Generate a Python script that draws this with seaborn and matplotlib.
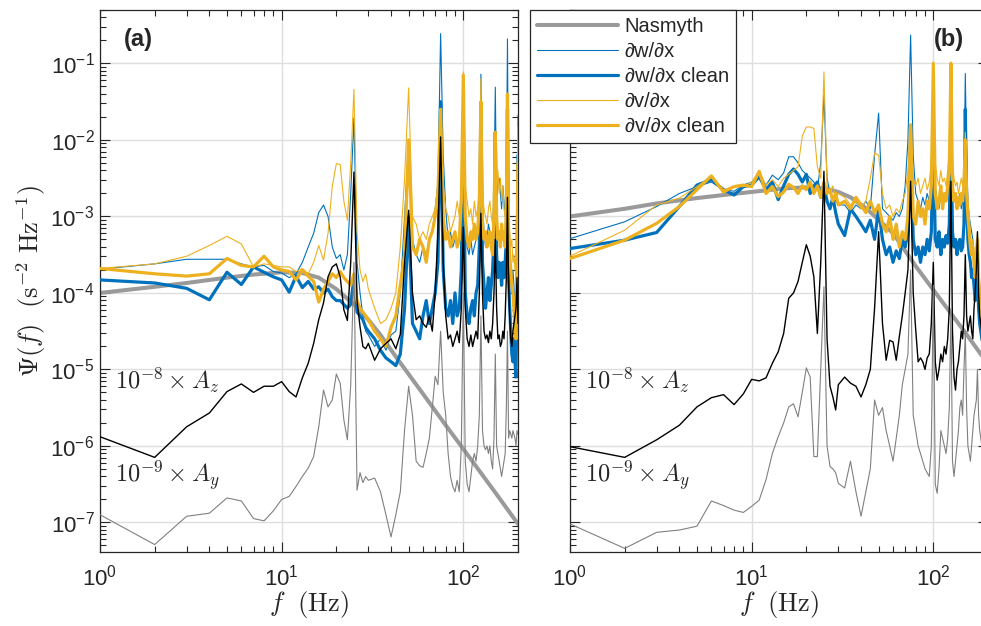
import numpy as np
import matplotlib
matplotlib.use("Agg")
import matplotlib.pyplot as plt
from matplotlib.ticker import LogLocator, NullFormatter, FixedLocator
import seaborn as sns

# ---------------- data (log10 of spectral values) -------------
freq = [1, 2, 3, 4, 5, 6, 7, 8, 9, 10, 11, 12, 13, 14, 15, 16, 17, 18, 19, 20,
        21, 22, 23, 24, 25, 26, 27, 28, 29, 30,
        32.5, 35, 37.5, 40, 42.5, 45, 47.5, 50,
        52.5, 55, 57.5, 60, 62.5, 65, 67.5, 70, 72.5, 75,
        77.5, 80, 82.5, 85, 87.5, 90, 92.5, 95, 97.5, 100,
        102.5, 105, 107.5, 110, 112.5, 115, 117.5, 120, 122.5, 125,
        127.5, 130, 132.5, 135, 137.5, 140, 142.5, 145, 147.5, 150,
        152.5, 155, 157.5, 160, 162.5, 165, 167.5, 170, 172.5, 175,
        177.5, 180, 182.5, 185, 187.5, 190, 192.5, 195, 197.5, 200]

nas_freq = [1, 2, 3, 5, 7, 10, 13, 16, 20, 25, 30, 35, 43, 60, 80, 100, 150, 200]
nas_a = [-4.00, -3.92, -3.87, -3.80, -3.76, -3.73, -3.74, -3.80, -3.95, -4.15,
         -4.35, -4.55, -4.85, -5.32, -5.73, -6.04, -6.61, -7.02]
nas_b = [-3.00, -2.90, -2.83, -2.76, -2.72, -2.68, -2.65, -2.63, -2.62, -2.63,
         -2.68, -2.75, -2.90, -3.22, -3.65, -3.96, -4.52, -4.93]

# panel (a)
a_w = [-3.69, -3.62, -3.56, -3.56, -3.56, -3.62, -3.66, -3.64, -3.72, -3.74,
       -3.80, -3.75, -3.60, -3.40, -3.22, -2.95, -2.85, -3.00, -3.40, -3.55,
       -3.50, -3.70, -3.50, -2.70, -1.71, -3.60, -4.00, -4.30, -4.50, -4.55,
       -4.70, -4.60, -4.75, -4.55, -4.50, -4.00, -3.00, -2.03,
       -3.30, -3.50, -3.60, -3.40, -3.50, -3.30, -3.20, -2.90, -2.56, -0.61,
       -2.20, -2.90, -3.30, -3.20, -3.40, -3.30, -3.40, -3.30, -3.00, -1.30,
       -3.00, -3.40, -3.50, -3.30, -3.50, -3.40, -3.30, -3.20, -2.80, -1.14,
       -2.80, -3.20, -3.40, -3.30, -3.10, -3.20, -3.40, -3.30, -2.70, -1.31,
       -2.80, -2.60, -2.50, -2.70, -2.90, -2.60, -2.80, -3.00, -2.70, -0.68,
       -3.00, -3.60, -3.80, -4.00, -3.70, -3.90, -4.30, -4.60, -3.20, -1.68]
a_wc = [-3.83, -3.87, -3.94, -4.09, -3.73, -3.89, -3.66, -3.73, -3.79, -3.83,
        -3.99, -3.78, -3.93, -3.85, -3.95, -3.92, -4.00, -3.95, -4.05, -4.10,
        -4.10, -4.15, -4.20, -4.15, -3.80, -4.25, -4.30, -4.35, -4.45, -4.50,
        -4.60, -4.75, -4.85, -4.90, -4.95, -4.80, -4.20, -3.00,
        -4.40, -4.50, -4.60, -4.30, -4.10, -4.40, -4.20, -4.00, -3.60, -1.50,
        -3.70, -4.20, -4.30, -4.10, -4.40, -4.00, -4.30, -4.20, -3.70, -1.80,
        -4.00, -4.30, -4.40, -4.20, -4.10, -4.30, -4.00, -3.90, -3.40, -1.60,
        -3.60, -3.90, -4.20, -4.00, -3.80, -4.10, -3.90, -3.70, -3.30, -1.90,
        -3.50, -3.80, -3.60, -3.70, -3.90, -3.60, -3.80, -3.60, -3.30, -1.60,
        -3.80, -4.20, -4.50, -4.80, -4.90, -4.60, -4.90, -5.10, -4.00, -2.20]
a_v = [-3.68, -3.62, -3.52, -3.38, -3.26, -3.36, -3.66, -3.62, -3.64, -3.66,
       -3.66, -3.72, -3.68, -3.75, -3.60, -3.38, -3.57, -3.22, -2.60, -2.31,
       -2.32, -2.80, -3.05, -2.30, -1.34, -3.20, -3.70, -3.85, -3.75, -3.95,
       -4.20, -4.40, -4.35, -4.20, -4.00, -3.40, -2.50, -1.32,
       -3.00, -3.10, -3.30, -3.20, -3.30, -3.10, -3.00, -2.90, -2.60, -1.70,
       -2.60, -2.90, -3.00, -3.20, -3.10, -3.00, -2.80, -3.00, -2.60, -1.11,
       -2.60, -2.80, -3.00, -2.90, -3.10, -2.80, -3.00, -2.90, -2.60, -1.20,
       -2.70, -2.90, -3.00, -3.10, -2.90, -2.80, -3.00, -3.10, -2.80, -1.90,
       -2.60, -2.40, -2.70, -2.50, -2.80, -2.60, -2.90, -3.00, -2.70, -1.40,
       -2.90, -3.20, -3.40, -3.30, -3.60, -3.50, -3.70, -3.40, -2.60, -1.83]
a_vc = [-3.68, -3.75, -3.78, -3.75, -3.55, -3.64, -3.66, -3.52, -3.66, -3.70,
        -3.72, -3.83, -3.70, -3.78, -3.85, -4.12, -3.95, -3.85, -3.75, -3.80,
        -3.72, -3.80, -3.85, -3.90, -3.75, -4.10, -4.20, -4.25, -4.30, -4.35,
        -4.50, -4.60, -4.70, -4.45, -4.30, -3.90, -3.50, -2.00,
        -3.40, -3.50, -3.30, -3.40, -3.60, -3.30, -3.20, -3.00, -2.70, -1.60,
        -3.00, -3.30, -3.20, -3.40, -3.30, -3.20, -3.40, -3.30, -2.80, -1.15,
        -3.00, -3.30, -3.40, -3.20, -3.30, -3.10, -3.30, -3.20, -2.80, -1.50,
        -3.10, -3.30, -3.20, -3.40, -3.30, -3.20, -3.40, -3.50, -3.00, -1.90,
        -3.00, -3.30, -3.20, -3.40, -3.10, -3.30, -3.20, -3.40, -2.90, -1.40,
        -3.30, -3.50, -3.70, -3.90, -4.00, -4.20, -4.40, -4.60, -3.50, -2.30]
a_z = [-5.88, -6.15, -5.75, -5.57, -5.29, -5.19, -5.30, -5.22, -5.22, -5.16,
       -5.29, -5.36, -5.11, -4.92, -4.66, -4.35, -4.13, -3.79, -3.66, -3.62,
       -3.79, -4.22, -4.36, -3.60, -2.42, -4.10, -4.44, -4.70, -4.73, -4.66,
       -4.88, -4.73, -4.66, -4.60, -4.73, -4.54, -3.60, -2.92,
       -4.00, -4.35, -4.30, -4.40, -4.45, -4.30, -4.50, -4.00, -3.20, -1.96,
       -3.60, -4.30, -4.60, -4.55, -4.70, -4.60, -4.50, -4.65, -4.20, -3.14,
       -4.20, -4.60, -4.70, -4.55, -4.70, -4.60, -4.50, -4.60, -4.00, -2.96,
       -4.00, -4.50, -4.60, -4.55, -4.65, -4.50, -4.60, -4.40, -4.00, -3.30,
       -4.20, -4.60, -4.55, -4.70, -4.65, -4.50, -4.60, -4.30, -3.80, -2.75,
       -3.90, -4.30, -4.60, -4.70, -4.50, -4.40, -4.30, -4.20, -3.80, -4.40]
a_y = [-6.90, -7.29, -6.92, -6.88, -6.68, -6.72, -6.95, -6.98, -6.85, -6.70,
       -6.66, -6.53, -6.40, -6.29, -6.14, -5.75, -5.27, -5.49, -5.40, -5.06,
       -5.18, -5.66, -5.92, -5.20, -3.60, -6.58, -6.35, -6.48, -6.40, -6.45,
       -6.42, -6.60, -6.90, -7.19, -6.90, -6.60, -5.79, -5.22,
       -5.60, -6.20, -6.26, -6.28, -6.10, -5.90, -5.50, -5.09, -5.20, -4.50,
       -5.30, -5.60, -6.10, -6.40, -6.53, -6.60, -6.45, -6.60, -6.00, -4.00,
       -6.20, -6.50, -6.60, -6.40, -6.20, -6.10, -6.20, -6.00, -5.60, -4.30,
       -5.80, -6.00, -6.05, -6.00, -6.10, -6.00, -6.20, -6.30, -5.90, -4.80,
       -6.00, -6.10, -6.20, -6.30, -6.40, -6.30, -6.20, -6.10, -5.50, -4.50,
       -5.90, -5.80, -5.85, -5.90, -5.80, -5.85, -5.90, -6.00, -5.80, -5.85]

# panel (b)
b_w = [-3.29, -3.07, -2.87, -2.70, -2.61, -2.55, -2.65, -2.67, -2.59, -2.55,
       -2.48, -2.59, -2.46, -2.52, -2.43, -2.22, -2.22, -2.30, -2.40, -2.45,
       -2.50, -2.55, -2.65, -2.30, -1.41, -2.50, -2.70, -2.75, -2.80, -2.85,
       -2.85, -2.95, -2.85, -2.90, -2.80, -2.90, -2.20, -1.65,
       -2.90, -2.95, -3.00, -3.05, -2.95, -3.00, -2.90, -2.60, -2.00, -0.63,
       -2.20, -2.70, -2.80, -2.90, -2.75, -2.85, -2.70, -2.80, -2.50, -1.60,
       -2.60, -2.80, -2.90, -2.70, -2.85, -2.75, -2.80, -2.70, -2.40, -1.50,
       -2.50, -2.80, -2.75, -2.90, -2.80, -2.70, -2.90, -2.80, -2.50, -1.13,
       -2.17, -2.80, -3.00, -3.10, -3.20, -3.30, -3.50, -3.60, -3.80, -3.70,
       -3.90, -4.10, -4.20, -4.30, -4.50, -4.60, -4.40, -4.50, -4.60, -4.50]
b_wc = [-3.42, -3.31, -3.21, -2.87, -2.59, -2.52, -2.65, -2.72, -2.61, -2.59,
        -2.48, -2.65, -2.55, -2.78, -2.60, -2.45, -2.38, -2.45, -2.55, -2.45,
        -2.70, -2.60, -2.55, -2.75, -2.60, -2.80, -2.90, -2.75, -2.95, -3.10,
        -3.25, -2.90, -3.00, -3.10, -3.20, -3.05, -3.30, -2.90,
        -3.30, -3.50, -3.40, -3.60, -3.45, -3.55, -3.30, -3.40, -3.20, -1.90,
        -3.30, -3.50, -3.40, -3.60, -3.40, -3.50, -3.30, -3.45, -3.20, -2.00,
        -3.30, -3.40, -3.20, -3.50, -3.30, -3.40, -3.25, -3.35, -3.10, -1.80,
        -3.20, -3.40, -3.30, -3.50, -3.35, -3.30, -3.45, -3.40, -3.10, -1.60,
        -2.80, -3.30, -3.50, -3.60, -3.80, -3.70, -3.90, -4.10, -4.00, -3.60,
        -4.20, -4.40, -4.50, -4.60, -4.70, -4.50, -4.60, -4.70, -4.60, -4.50]
b_v = [-3.52, -3.18, -2.85, -2.76, -2.61, -2.47, -2.65, -2.61, -2.61, -2.55,
       -2.41, -2.59, -2.52, -2.61, -2.50, -2.45, -2.40, -2.35, -1.95, -1.83,
       -1.83, -1.85, -2.35, -2.50, -1.11, -2.60, -2.70, -2.60, -2.75, -2.70,
       -2.75, -2.85, -2.80, -2.90, -2.80, -2.50, -2.17, -2.20,
       -2.70, -2.90, -2.85, -3.00, -2.90, -2.95, -2.80, -2.70, -2.40, -1.96,
       -2.50, -2.60, -2.50, -2.70, -2.60, -2.50, -2.65, -2.55, -2.30, -0.98,
       -2.30, -2.50, -2.60, -2.40, -2.55, -2.50, -2.60, -2.40, -2.10, -0.98,
       -2.30, -2.50, -2.60, -2.55, -2.70, -2.60, -2.50, -2.60, -2.40, -1.90,
       -2.50, -2.80, -3.00, -3.20, -3.40, -3.30, -3.50, -3.60, -3.40, -3.20,
       -3.60, -3.90, -4.10, -4.20, -4.40, -4.30, -4.50, -4.40, -4.50, -4.40]
b_vc = [-3.55, -3.31, -3.09, -2.87, -2.65, -2.47, -2.68, -2.61, -2.59, -2.61,
        -2.41, -2.70, -2.61, -2.74, -2.68, -2.58, -2.62, -2.70, -2.60, -2.65,
        -2.55, -2.70, -2.60, -2.75, -2.55, -2.70, -2.65, -2.80, -2.70, -2.85,
        -2.80, -2.90, -2.75, -2.85, -2.95, -2.80, -2.95, -2.85,
        -3.10, -3.20, -3.00, -3.30, -3.10, -3.40, -3.20, -3.30, -3.00, -1.80,
        -3.00, -3.10, -2.80, -3.00, -2.90, -3.10, -2.80, -2.90, -2.60, -1.00,
        -2.70, -2.90, -2.80, -2.60, -2.90, -2.70, -2.80, -2.60, -2.40, -1.00,
        -2.60, -2.80, -2.70, -2.90, -2.75, -2.85, -2.70, -2.80, -2.60, -2.00,
        -2.70, -3.00, -3.20, -3.40, -3.50, -3.40, -3.60, -3.80, -3.50, -3.30,
        -3.80, -4.00, -4.20, -4.40, -4.50, -4.40, -4.60, -4.50, -4.60, -4.50]
b_z = [-6.01, -6.15, -5.92, -5.73, -5.49, -5.37, -5.33, -5.46, -5.32, -5.13,
       -5.15, -5.11, -4.92, -4.77, -4.53, -4.07, -4.00, -3.85, -3.60, -3.37,
       -3.52, -3.79, -4.53, -3.60, -2.41, -4.60, -5.22, -5.36, -5.53, -5.20,
       -5.10, -5.18, -5.22, -5.36, -5.20, -5.00, -4.20, -3.20,
       -4.40, -4.88, -4.62, -4.64, -4.88, -4.57, -4.30, -4.00, -3.70, -2.54,
       -4.00, -4.48, -4.90, -4.85, -4.90, -5.00, -4.85, -4.80, -4.40, -3.60,
       -4.90, -5.14, -5.00, -4.80, -4.90, -4.70, -4.80, -4.60, -4.20, -2.54,
       -4.50, -5.10, -5.27, -5.00, -4.90, -4.70, -4.50, -4.60, -4.30, -3.50,
       -4.30, -4.50, -4.40, -4.30, -4.50, -4.60, -4.20, -4.00, -3.70, -3.20,
       -4.00, -4.30, -4.40, -4.50, -4.30, -4.40, -4.50, -4.40, -4.60, -4.50]
b_y = [-7.02, -7.34, -7.13, -7.10, -7.05, -6.72, -6.78, -6.84, -6.87, -6.79,
       -6.71, -6.44, -6.10, -5.88, -5.70, -5.49, -5.45, -5.62, -5.30, -4.98,
       -5.10, -6.14, -6.14, -5.00, -3.92, -6.00, -6.27, -6.30, -6.35, -6.49,
       -6.55, -6.20, -6.60, -6.92, -6.60, -6.30, -5.40, -5.60,
       -5.50, -5.80, -6.00, -6.20, -5.90, -5.60, -5.20, -5.00, -4.80, -3.70,
       -5.60, -5.80, -6.00, -6.10, -6.20, -6.30, -6.35, -6.40, -6.00, -3.90,
       -6.50, -6.62, -6.30, -5.80, -5.90, -6.00, -6.10, -5.90, -5.50, -4.20,
       -6.20, -6.40, -6.20, -6.00, -5.80, -5.50, -5.40, -5.60, -5.00, -4.50,
       -5.50, -6.00, -6.10, -6.20, -6.00, -5.80, -5.60, -5.50, -5.40, -5.00,
       -5.60, -5.80, -5.90, -6.00, -5.90, -5.80, -5.90, -6.00, -5.90, -6.00]

legend_labels = ["Nasmyth", "\u2202w/\u2202x", "\u2202w/\u2202x clean",
                 "\u2202v/\u2202x", "\u2202v/\u2202x clean"]
panel_tags = ["(a)", "(b)"]
x_major = [1, 10, 100]
y_major = [1e-7, 1e-6, 1e-5, 1e-4, 1e-3, 1e-2, 1e-1]

# ---------------- style -------------
sns.set_theme(style="white")
plt.rcParams.update({
    "font.family": ["Liberation Sans", "DejaVu Sans"],
    "mathtext.fontset": "cm",
    "axes.edgecolor": "#262626",
    "axes.linewidth": 0.9,
    "xtick.color": "#262626",
    "ytick.color": "#262626",
    "xtick.labelcolor": "#262626",
    "ytick.labelcolor": "#262626",
    "xtick.bottom": True,
    "ytick.left": True,
})

BLUE = "#0072BD"
YELLOW = "#EDB120"
NASC = "#9a9a9a"
AYC = "#808080"

fig = plt.figure(figsize=(9.81, 6.26), dpi=100)
W, H = 981.0, 626.0
ax_a = fig.add_axes([100 / W, 74 / H, 418 / W, 542 / H])
ax_b = fig.add_axes([570 / W, 74 / H, 418 / W, 542 / H])


def draw(ax, nas, w, wc, v, vc, z, y, with_labels):
    lab = (lambda s: s) if with_labels else (lambda s: None)
    common = dict(ax=ax, estimator=None, sort=False)
    sns.lineplot(x=nas_freq, y=10 ** np.array(nas), color=NASC, linewidth=2.9,
                 label=lab(legend_labels[0]), zorder=2, **common)
    sns.lineplot(x=freq, y=10 ** np.array(w), color=BLUE, linewidth=0.8,
                 label=lab(legend_labels[1]), zorder=3, **common)
    sns.lineplot(x=freq, y=10 ** np.array(wc), color=BLUE, linewidth=2.3,
                 label=lab(legend_labels[2]), zorder=4, **common)
    sns.lineplot(x=freq, y=10 ** np.array(v), color=YELLOW, linewidth=0.8,
                 label=lab(legend_labels[3]), zorder=5, **common)
    sns.lineplot(x=freq, y=10 ** np.array(vc), color=YELLOW, linewidth=2.3,
                 label=lab(legend_labels[4]), zorder=6, **common)
    sns.lineplot(x=freq, y=10 ** np.array(z), color="black", linewidth=1.0,
                 zorder=7, **common)
    sns.lineplot(x=freq, y=10 ** np.array(y), color=AYC, linewidth=0.8,
                 zorder=8, **common)

    ax.set_xscale("log")
    ax.set_yscale("log")
    ax.set_xlim(1, 200)
    ax.set_ylim(4.1e-8, 0.5)
    ax.xaxis.set_major_locator(FixedLocator(x_major))
    ax.yaxis.set_major_locator(FixedLocator(y_major))
    for axis in (ax.xaxis, ax.yaxis):
        axis.set_minor_locator(LogLocator(base=10, subs=np.arange(2, 10), numticks=40))
        axis.set_minor_formatter(NullFormatter())
    ax.tick_params(which="both", direction="in", bottom=True, left=True,
                   top=True, right=True, width=0.8, color="#262626")
    ax.tick_params(which="major", length=7)
    ax.tick_params(which="minor", length=4)
    ax.tick_params(axis="x", which="major", labelsize=16, pad=9)
    ax.tick_params(axis="y", which="major", labelsize=16, pad=4)
    ax.grid(True, which="major", color="#dedede", linewidth=1.0)
    ax.set_axisbelow(True)
    for sp in ax.spines.values():
        sp.set_visible(True)
        sp.set_color("#262626")
        sp.set_linewidth(0.9)
    ax.set_xlabel(r"$f\ \ (\mathrm{Hz})$", fontsize=19)
    ax.xaxis.set_label_coords(0.5, -0.068)
    ax.text(0.036, 0.317, r"$10^{-8}\times A_z$", transform=ax.transAxes,
            fontsize=17.5, ha="left", va="center", zorder=10)
    ax.text(0.036, 0.140, r"$10^{-9}\times A_y$", transform=ax.transAxes,
            fontsize=17.5, ha="left", va="center", zorder=10)


draw(ax_a, nas_a, a_w, a_wc, a_v, a_vc, a_z, a_y, True)
draw(ax_b, nas_b, b_w, b_wc, b_v, b_vc, b_z, b_y, False)

ax_a.set_ylabel(r"$\Psi(f)\ \ (\mathrm{s}^{-2}\ \mathrm{Hz}^{-1})$", fontsize=19)
ax_a.yaxis.set_label_coords(-0.125, 0.5)
ax_b.tick_params(axis="y", labelleft=False)
ax_b.set_ylabel("")

ax_a.text(0.091, 0.945, panel_tags[0], transform=ax_a.transAxes, fontsize=17,
          fontweight="bold", ha="center", va="center", zorder=10)
ax_b.text(0.907, 0.945, panel_tags[1], transform=ax_b.transAxes, fontsize=17,
          fontweight="bold", ha="center", va="center", zorder=10)

handles, labels = ax_a.get_legend_handles_labels()
if ax_a.get_legend() is not None:
    ax_a.get_legend().remove()
if ax_b.get_legend() is not None:
    ax_b.get_legend().remove()
leg = fig.legend(handles, labels, loc="upper left",
                 bbox_to_anchor=(530 / W, 1 - 10 / H), borderaxespad=0,
                 frameon=True, fancybox=False, framealpha=1, edgecolor="#262626",
                 fontsize=14.5, handlelength=4.0, handletextpad=0.35,
                 labelspacing=0.3, borderpad=0.35)
leg.get_frame().set_linewidth(0.9)
leg.set_zorder(20)

fig.savefig("out.png", dpi=100)
